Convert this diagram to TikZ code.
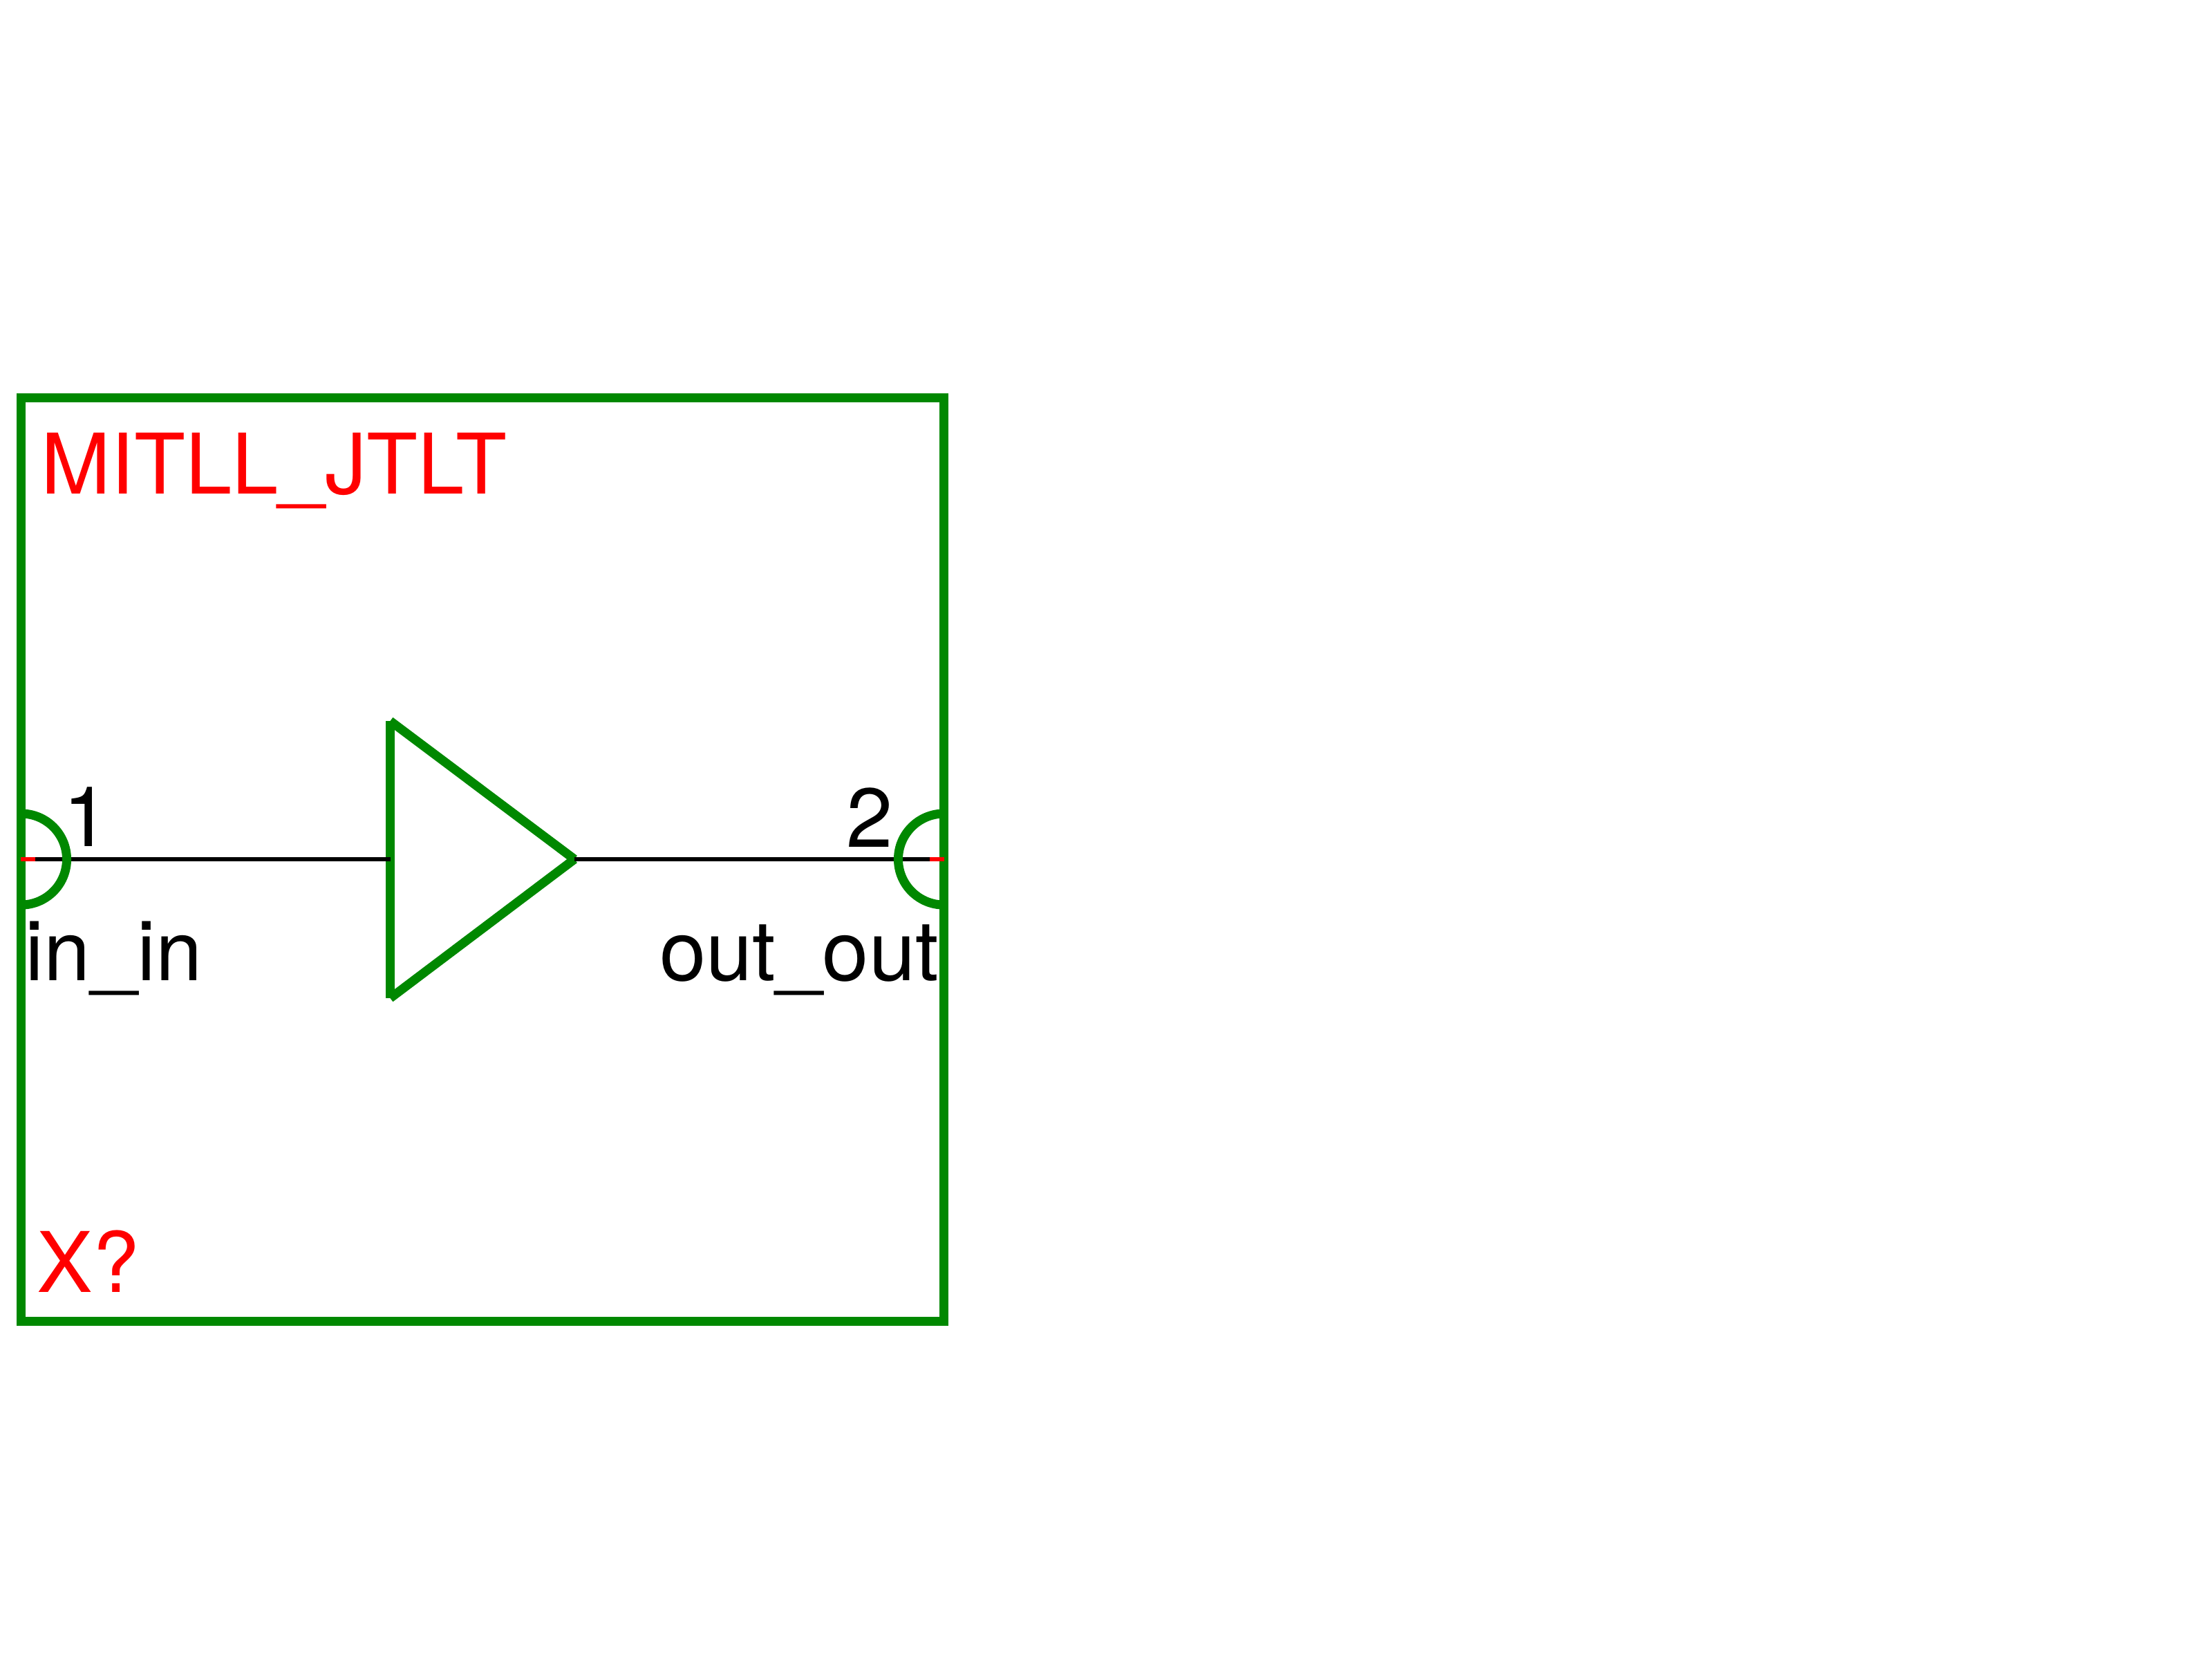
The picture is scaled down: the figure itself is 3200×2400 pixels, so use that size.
\documentclass[tikz,border=0pt]{standalone}
\usepackage{fontspec}
\setmainfont{TeX Gyre Heros}
\usepackage{tikz}
\usetikzlibrary{positioning}
\definecolor{symgreen}{HTML}{008800}
\definecolor{symred}{HTML}{FF0000}

\begin{document}
\begin{tikzpicture}[
    x=0.01cm, y=-0.01cm,
    symline/.style={draw=symgreen, line width=0.13cm},
    wire/.style={draw=black, line width=0.06cm},
    stub/.style={draw=symred, line width=0.06cm},
    lbl/.style={inner sep=0pt, outer sep=0pt, font=\fontsize{34.4}{40}\selectfont},
    redlbl/.style={lbl, text=symred}
]
    \useasboundingbox (0,0) rectangle (3200,2400);

    % outer box
    \node[symline, inner sep=0pt, outer sep=0pt, minimum width=13.35cm, minimum height=13.36cm]
        (frame) at (698,1243.5) {};

    % buffer triangle
    \coordinate (bufTop) at (564.5,1043);
    \coordinate (bufBot) at (564.5,1444);
    \coordinate (bufTip) at (831,1243);
    \coordinate (bufIn) at (565,1243);
    \draw[symline] (bufTop) -- (bufBot);
    \draw[symline] (bufTop) -- (bufTip);
    \draw[symline] (bufBot) -- (bufTip);

    % wires
    \coordinate (pinIn) at (30,1243);
    \coordinate (pinInEnd) at (51,1243);
    \coordinate (pinOut) at (1366,1243);
    \coordinate (pinOutEnd) at (1345,1243);
    \draw[wire] (pinInEnd) -- (bufIn);
    \draw[wire] (bufTip) -- (pinOutEnd);

    % pin arcs
    \coordinate (arcIn) at (30.5,1177);
    \coordinate (arcOut) at (1365.5,1177);
    \draw[symline] (arcIn) arc[start angle=90, end angle=-90, radius=0.66cm];
    \draw[symline] (arcOut) arc[start angle=90, end angle=270, radius=0.66cm];

    % red pin ends
    \draw[stub] (pinIn) -- (pinInEnd);
    \draw[stub] (pinOut) -- (pinOutEnd);

    % labels
    \node[redlbl, anchor=base west] (title) at (60,714) {MITLL\_JTLT};
    \node[redlbl, anchor=base west] (refdes) at (54,1869) {X?};
    \node[lbl, anchor=base west] (numIn) at (91,1224) {1};
    \node[lbl, anchor=base east] (numOut) at (1292,1225) {2};
    \node[lbl, anchor=base west] (nameIn) at (37,1418) {in\_in};
    \node[lbl, anchor=base east] (nameOut) at (1358,1418) {out\_out};
\end{tikzpicture}
\end{document}
